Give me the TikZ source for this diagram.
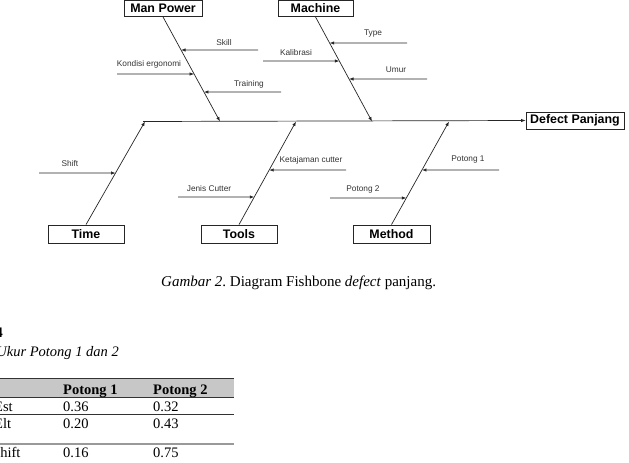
\documentclass[tikz,border=0pt]{standalone}
\usepackage{fontspec}
\setmainfont{Liberation Serif}
\newfontfamily\arial{Liberation Sans}
\usetikzlibrary{arrows.meta}
\frenchspacing

% one sub-cause: arrow from a free end to the bone, with its label
% #1 name, #2 start x, #3 y, #4 text, #5/#6 label centre, #7 bone name
\newcommand\subcause[7]{%
  \coordinate (#1a) at (#2,#3);
  \coordinate (#1b) at (0,#3);
  \node[lbl] (#1l) at (#5,#6) {#4};
  \draw[bone] (#1a) -- (intersection of #1a--#1b and #7s--#7e);
}

\begin{document}
\begin{tikzpicture}[x=1pt,y=-1pt,
  causebox/.style={draw=black!85, line width=0.8pt, fill=white, inner sep=0pt,
    font=\arial\fontsize{12.4}{14}\selectfont\bfseries},
  lbl/.style={font=\arial\fontsize{8.3}{10}\selectfont, text=black!80, inner sep=0pt},
  bone/.style={draw=black!85, line width=0.7pt, -{Latex[length=4.5pt,width=3.4pt]}},
  tab/.style={font=\fontsize{14.5}{16}\selectfont, inner sep=0pt, anchor=base west},
]
\useasboundingbox (0,0) rectangle (629,463);

% ---------- fishbone ----------
\node[causebox, minimum width=78pt, minimum height=16pt] (mp) at (163,8.5) {Man Power};
\node[causebox, minimum width=75pt, minimum height=16pt] (mc) at (315.5,8.5) {Machine};
\node[causebox, minimum width=98pt, minimum height=17pt] (dp) at (575,120.5) {Defect Panjang};
\node[causebox, minimum width=76pt, minimum height=18pt] (tm) at (86,234) {Time};
\node[causebox, minimum width=76pt, minimum height=18pt] (tl) at (239,234) {Tools};
\node[causebox, minimum width=77pt, minimum height=18pt] (me) at (391.5,234) {Method};

% spine
\coordinate (spine) at (143,121.5);
\draw[bone] (spine) -- (dp.west);

% main bones
\coordinate (mps) at (mp.south);  \coordinate (mpe) at (220,121.5);
\coordinate (mcs) at (mc.south);  \coordinate (mce) at (372,121.5);
\coordinate (tms) at (tm.north);  \coordinate (tme) at (145,121.5);
\coordinate (tls) at (tl.north);  \coordinate (tle) at (296,121.5);
\coordinate (mes) at (me.north);  \coordinate (mee) at (449,121.5);
\foreach \b in {mp,mc,tm,tl,me} \draw[bone] (\b s) -- (\b e);

% sub-causes
\subcause{sk}{258}{50}{Skill}{224}{43}{mp}
\subcause{ke}{117}{74}{Kondisi ergonomi}{149}{64}{mp}
\subcause{tr}{281}{92}{Training}{249}{84}{mp}
\subcause{ka}{263}{61}{Kalibrasi}{296}{53}{mc}
\subcause{ty}{407}{43}{Type}{373}{34}{mc}
\subcause{um}{427}{79}{Umur}{396}{70}{mc}
\subcause{sh}{39}{173}{Shift}{70}{164}{tm}
\subcause{jc}{178}{197}{Jenis Cutter}{209}{189}{tl}
\subcause{kc}{346}{170}{Ketajaman cutter}{311}{160}{tl}
\subcause{pd}{330}{198}{Potong 2}{363}{189}{me}
\subcause{ps}{499}{170}{Potong 1}{468}{160}{me}

% ---------- caption ----------
\node[tab, font=\fontsize{15}{17}\selectfont] (cap) at (161,286)
  {\textit{Gambar 2}. Diagram Fishbone \textit{defect} panjang.};

% ---------- table ----------
\node[tab, font=\fontsize{14.5}{16}\selectfont\bfseries, anchor=base east] (tno) at (3,337) {Tabel 4};
\node[tab, font=\fontsize{14.5}{16}\selectfont\itshape, anchor=base east] (ttl) at (119,356) {Ukur Potong 1 dan 2};

\fill[black!22] (0,378) rectangle (234,397);
\draw[line width=0.9pt, black!80] (0,378) -- (234,378);
\draw[line width=0.9pt, black!80] (0,397) -- (234,397);
\draw[line width=0.6pt, black!80] (0,414) -- (234,414);
\draw[line width=1.2pt, black!40] (0,444) -- (234,444);

\node[tab, font=\fontsize{14.5}{16}\selectfont\bfseries] (h1) at (63,394) {Potong 1};
\node[tab, font=\fontsize{14.5}{16}\selectfont\bfseries] (h2) at (153,394) {Potong 2};

\node[tab] (r1) at (-6,411.5) {Est};
\node[tab] (r1a) at (63,411.5) {0.36};
\node[tab] (r1b) at (153,411.5) {0.32};
\node[tab] (r2) at (-6,428.5) {Elt};
\node[tab] (r2a) at (63,428.5) {0.20};
\node[tab] (r2b) at (153,428.5) {0.43};
\node[tab] (r3) at (-8,457.5) {Shift};
\node[tab] (r3a) at (63,457.5) {0.16};
\node[tab] (r3b) at (153,457.5) {0.75};
\end{tikzpicture}
\end{document}
